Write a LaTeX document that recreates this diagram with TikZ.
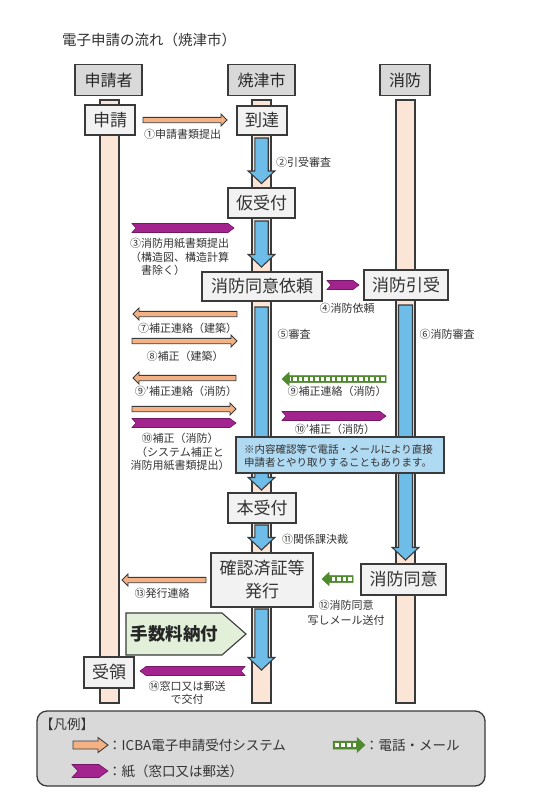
\documentclass[tikz,border=0pt]{standalone}
\usepackage{fontspec}
\setmainfont{Noto Sans CJK JP}
\usetikzlibrary{calc}
\definecolor{edge}{HTML}{3A3A3A}
\definecolor{peach}{HTML}{FBE5D6}
\definecolor{hdrgray}{HTML}{D9D9D9}
\definecolor{boxgray}{HTML}{F2F2F2}
\definecolor{bluef}{HTML}{6DBDE8}
\definecolor{orangef}{HTML}{F4B183}
\definecolor{purpf}{HTML}{A3238F}
\definecolor{greenf}{HTML}{4F8A2E}
\definecolor{notef}{HTML}{B0D9F2}
\definecolor{feef}{HTML}{E2F0D9}
\definecolor{txt}{HTML}{333333}
\newcommand\HArrow[6]{%
  \path[#3] let \p1=(#1),\p2=(#2),\n1={sign(\x2-\x1)} in
   (\x1,\y1+#4) -- ({\x2-\n1*#6},\y1+#4) -- ({\x2-\n1*#6},\y1+#5) -- (\x2,\y1)
   -- ({\x2-\n1*#6},\y1-#5) -- ({\x2-\n1*#6},\y1-#4) -- (\x1,\y1-#4) -- cycle;}
\newcommand\VArrow[6]{%
  \path[#3] let \p1=(#1),\p2=(#2),\n1={sign(\y2-\y1)} in
   (\x1+#4,\y1) -- (\x1+#4,{\y2-\n1*#6}) -- (\x1+#5,{\y2-\n1*#6}) -- (\x1,\y2)
   -- (\x1-#5,{\y2-\n1*#6}) -- (\x1-#4,{\y2-\n1*#6}) -- (\x1-#4,\y1) -- cycle;}
\newcommand\Chev[6]{%
  \path[#3] let \p1=(#1),\p2=(#2),\n1={sign(\x2-\x1)} in
   (\x1,\y1+#4) -- ({\x2-\n1*#5},\y1+#4) -- (\x2,\y1) -- ({\x2-\n1*#5},\y1-#4)
   -- (\x1,\y1-#4) -- ({\x1+\n1*#6},\y1) -- cycle;}
\newcommand\GArrow[5]{% from,to,shafthalf,headhalf,headlen
  \HArrow{#1}{#2}{fill=greenf,draw=greenf,line width=0.5pt}{#3}{#4}{#5}
  \path[draw=white,line width=#3,dash pattern=on #3 off 2pt]
   let \p1=(#1),\p2=(#2),\n1={sign(\x2-\x1)} in
   ({\x1+\n1*1.5pt},\y1) -- ({\x2-\n1*(#5+1pt)},\y1);}
\tikzset{
  lane/.style={draw=edge,fill=peach,line width=1.2pt},
  hdr/.style={draw=edge,fill=hdrgray,line width=1.3pt,font=\fontsize{16}{18}\selectfont,inner sep=0pt,text=black!85},
  box/.style={draw=edge,fill=boxgray,line width=1.3pt,font=\fontsize{17}{23}\selectfont,align=center,inner sep=0pt,text=black!80},
  lbl/.style={font=\fontsize{11}{13.5}\selectfont,text=txt,inner sep=0pt,align=center},
  bluearr/.style={draw=edge,fill=bluef,line width=1.1pt},
  orarr/.style={draw=edge,fill=orangef,line width=0.9pt},
  puarr/.style={draw=purpf!70!black,fill=purpf,line width=0.6pt},
}
\begin{document}
\begin{tikzpicture}[x=1pt,y=-1pt]
\useasboundingbox (0,0) rectangle (554,800);
\fill[white] (0,0) rectangle (554,800);
% title
\node[anchor=west,font=\fontsize{14.5}{16}\selectfont,text=txt,inner sep=0pt] (title) at (62,40) {電子申請の流れ（焼津市）};
% lanes
\draw[lane] (100,100) rectangle (119,703);
\draw[lane] (252,100) rectangle (271,703);
\draw[lane] (396,100) rectangle (415,703);
% headers
\node[hdr,minimum width=67pt,minimum height=31pt] (hA) at (108.5,80) {申請者};
\node[hdr,minimum width=67pt,minimum height=31pt] (hB) at (261.5,80) {焼津市};
\node[hdr,minimum width=50pt,minimum height=31pt] (hC) at (405,80) {消防};
% blue flow arrows
\coordinate (b1s) at (261.5,138); \coordinate (b1e) at (261.5,183.5);
\coordinate (b2s) at (261.5,221); \coordinate (b2e) at (261.5,267);
\coordinate (b3s) at (261.5,307); \coordinate (b3e) at (261.5,490);
\coordinate (b4s) at (261.5,525); \coordinate (b4e) at (261.5,550);
\coordinate (b5s) at (261.5,609); \coordinate (b5e) at (261.5,670);
\coordinate (b6s) at (405.5,305); \coordinate (b6e) at (405.5,560);
\VArrow{b1s}{b1e}{bluearr}{6.7pt}{13.3pt}{12.5pt}
\VArrow{b2s}{b2e}{bluearr}{6.7pt}{13.3pt}{12.5pt}
\VArrow{b3s}{b3e}{bluearr}{6.7pt}{13.3pt}{12.5pt}
\VArrow{b4s}{b4e}{bluearr}{6.7pt}{13.3pt}{12.5pt}
\VArrow{b5s}{b5e}{bluearr}{6.7pt}{13.3pt}{12.5pt}
\VArrow{b6s}{b6e}{bluearr}{7pt}{13.3pt}{12.5pt}
% nodes
\node[box,minimum width=50pt,minimum height=30pt] (n1) at (110,120) {申請};
\node[box,minimum width=50pt,minimum height=29pt] (n2) at (262,120.5) {到達};
\node[box,minimum width=67pt,minimum height=30pt] (n3) at (261.5,203) {仮受付};
\node[box,minimum width=120pt,minimum height=29pt] (n4) at (262,286.5) {消防同意依頼};
\node[box,minimum width=84pt,minimum height=30pt] (n5) at (406,285) {消防引受};
\node[box,minimum width=68pt,minimum height=30pt] (n6) at (262,508) {本受付};
\node[box,minimum width=102pt,minimum height=54pt] (n7) at (262,580) {確認済証等\\発行};
\node[box,minimum width=85pt,minimum height=31pt] (n8) at (403.5,579.5) {消防同意};
\node[box,minimum width=50pt,minimum height=31pt] (n9) at (109,672.5) {受領};
% fee pentagon
\draw[draw=edge,fill=feef,line width=1.1pt] (126,613) -- (222,613) -- (246,634) -- (222,655) -- (126,655) -- cycle;
\node[font=\bfseries\fontsize{17.5}{19}\selectfont,inner sep=0pt,text=black!85] (fee) at (174.5,634) {手数料納付};
% orange (system) arrows
\coordinate (o1s) at (143,120); \coordinate (o1e) at (227,120);
\coordinate (o7s) at (237,314); \coordinate (o7e) at (133,314);
\coordinate (o8s) at (132,341); \coordinate (o8e) at (237,341);
\coordinate (o9s) at (236,378); \coordinate (o9e) at (133,378);
\coordinate (o10s) at (132,409); \coordinate (o10e) at (236,409);
\coordinate (o13s) at (206,580); \coordinate (o13e) at (122,580);
\HArrow{o1s}{o1e}{orarr}{2.7pt}{6pt}{6pt}
\HArrow{o7s}{o7e}{orarr}{2.7pt}{6pt}{6pt}
\HArrow{o8s}{o8e}{orarr}{2.7pt}{6pt}{6pt}
\HArrow{o9s}{o9e}{orarr}{2.7pt}{6pt}{6pt}
\HArrow{o10s}{o10e}{orarr}{2.7pt}{6pt}{6pt}
\HArrow{o13s}{o13e}{orarr}{2.7pt}{6pt}{6pt}
% purple (paper) chevrons
\coordinate (p3s) at (132,228); \coordinate (p3e) at (234,228);
\coordinate (p4s) at (327,285); \coordinate (p4e) at (359,285);
\coordinate (p10as) at (282,416); \coordinate (p10ae) at (386,416);
\coordinate (p10s) at (132,423); \coordinate (p10e) at (236,423);
\coordinate (p14s) at (245,671); \coordinate (p14e) at (140,671);
\Chev{p3s}{p3e}{puarr}{4.5pt}{6pt}{4pt}
\Chev{p4s}{p4e}{puarr}{4.5pt}{6pt}{4pt}
\Chev{p10as}{p10ae}{puarr}{4.5pt}{6pt}{4pt}
\Chev{p10s}{p10e}{puarr}{4.5pt}{6pt}{4pt}
\Chev{p14s}{p14e}{puarr}{4.5pt}{6pt}{4pt}
% green (phone/mail) arrows
\coordinate (g9s) at (386,379); \coordinate (g9e) at (282,379);
\coordinate (g12s) at (353,579); \coordinate (g12e) at (322,579);
\GArrow{g9s}{g9e}{3.5pt}{6.5pt}{7pt}
\GArrow{g12s}{g12e}{3.5pt}{6.5pt}{7pt}
% labels
\node[lbl] (l1) at (182.5,134) {①申請書類提出};
\node[lbl] (l2) at (303.5,162) {②引受審査};
\node[lbl,align=left,anchor=north west] (l3) at (130,238) {③消防用紙書類提出\\（構造図、構造計算\\　書除く）};
\node[lbl] (l4) at (347,308) {④消防依頼};
\node[lbl] (l5) at (294,334) {⑤審査};
\node[lbl] (l6) at (447,334) {⑥消防審査};
\node[lbl] (l7) at (187.5,328) {⑦補正連絡（建築）};
\node[lbl] (l8) at (185,356) {⑧補正（建築）};
\node[lbl] (l9a) at (186,391) {⑨'補正連絡（消防）};
\node[lbl] (l9) at (337,391) {⑨補正連絡（消防）};
\node[lbl] (l10a) at (335,429) {⑩'補正（消防）};
\node[lbl] (l10) at (180,452) {⑩補正（消防）\\（システム補正と\\消防用紙書類提出）};
\node[lbl] (l11) at (315,539) {⑪関係課決裁};
\node[lbl] (l13) at (162,593) {⑬発行連絡};
\node[lbl,font=\fontsize{11}{15}\selectfont] (l12) at (346,612.5) {⑫消防同意\\写しメール送付};
\node[lbl,font=\fontsize{11}{13}\selectfont] (l14) at (187,692.5) {⑭窓口又は郵送\\で交付};
% note box
\node[draw=edge,fill=notef,line width=1.3pt,minimum width=208pt,minimum height=36pt,inner sep=0pt] (note) at (340,455) {};
\node[font=\fontsize{10.5}{13}\selectfont,text=txt,align=left,anchor=west,inner sep=0pt] (notetxt) at (244,455.5) {※内容確認等で電話・メールにより直接\\申請者とやり取りすることもあります。};
% legend
\draw[draw=edge,fill=hdrgray,line width=1.3pt,rounded corners=10pt] (37,711) rectangle (485,786);
\node[anchor=west,font=\fontsize{13.5}{15}\selectfont,text=txt,inner sep=0pt] (lgt) at (40,724) {【凡例】};
\coordinate (lo1) at (73,745); \coordinate (lo2) at (108,745);
\coordinate (lg1) at (333,745); \coordinate (lg2) at (365,745);
\coordinate (lp1) at (72,771); \coordinate (lp2) at (108,771);
\HArrow{lo1}{lo2}{orarr}{4pt}{7.5pt}{10pt}
\GArrow{lg1}{lg2}{4pt}{7.5pt}{8pt}
\Chev{lp1}{lp2}{puarr}{6.5pt}{9pt}{6pt}
\node[anchor=west,font=\fontsize{13.5}{15}\selectfont,text=txt,inner sep=0pt] (lt1) at (108,745) {：ICBA電子申請受付システム};
\node[anchor=west,font=\fontsize{13.5}{15}\selectfont,text=txt,inner sep=0pt] (lt2) at (365,745) {：電話・メール};
\node[anchor=west,font=\fontsize{13.5}{15}\selectfont,text=txt,inner sep=0pt] (lt3) at (108,771) {：紙（窓口又は郵送）};
\end{tikzpicture}
\end{document}
